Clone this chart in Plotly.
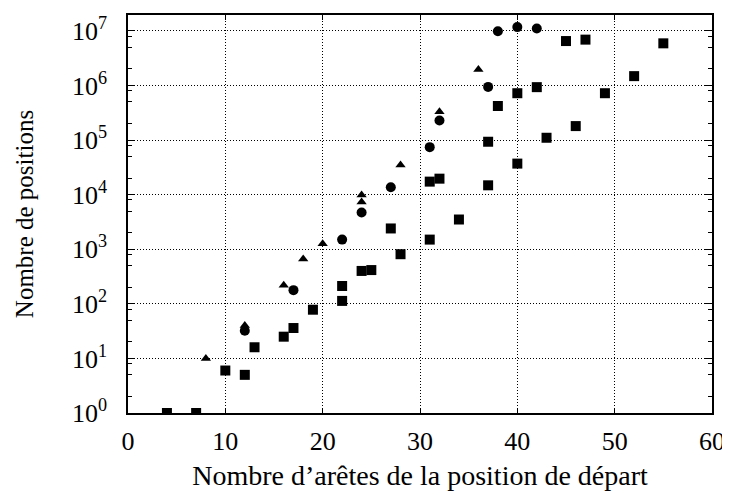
import plotly.graph_objects as go

# Nombre d'arêtes de la position de départ / nombre de positions
sq_x = [4, 7, 10, 12, 13, 16, 17, 19, 22, 22, 24, 25, 27, 28, 31, 31, 32, 34,
        37, 37, 38, 40, 40, 42, 43, 45, 46, 47, 49, 52, 55]
sq_y = [1, 1, 6, 5, 16, 25, 36, 78, 113, 212, 400, 415, 2400, 810, 1500, 17300,
        19600, 3500, 93000, 14800, 420000, 720000, 37000, 930000, 110000,
        6.5e6, 180000, 6.9e6, 720000, 1.48e6, 5.9e6]

ci_x = [12, 17, 22, 24, 27, 31, 32, 37, 38, 40, 42]
ci_y = [32, 178, 1500, 4700, 13600, 74000, 228000, 940000, 9.8e6, 1.17e7, 1.1e7]

tr_x = [8, 12, 16, 18, 20, 24, 24, 28, 32, 36]
tr_y = [10, 40, 218, 660, 1260, 7300, 9800, 35000, 330000, 1.95e6]

y_ticks = [10 ** k for k in range(8)]
y_labels = ["10<sup>%d</sup>" % k for k in range(8)]
minor_vals = [m * 10 ** k for k in range(8) for m in (2, 5, 8)]

FONT = "Liberation Serif"
GRID = dict(showgrid=True, gridcolor="black", griddash="1px,2px", gridwidth=1)
TICKFONT = dict(family=FONT, size=26, color="black")

fig = go.Figure()
fig.add_trace(go.Scatter(x=sq_x, y=sq_y, mode="markers",
                         marker=dict(symbol="square", size=10, color="black")))
fig.add_trace(go.Scatter(x=ci_x, y=ci_y, mode="markers",
                         marker=dict(symbol="circle", size=10, color="black")))
fig.add_trace(go.Scatter(x=tr_x, y=tr_y, mode="markers",
                         marker=dict(symbol="triangle-up", size=9, color="black")))

# the page adds an 8px body margin, so the figure is drawn 8px smaller
fig.update_layout(
    width=722, height=487,
    margin=dict(l=120, r=17, t=5, b=82),
    paper_bgcolor="white", plot_bgcolor="white",
    showlegend=False,
    font=dict(family=FONT, size=22, color="black"),
)
fig.update_xaxes(
    range=[0, 60], tickmode="array", tickvals=[0, 10, 20, 30, 40, 50, 60],
    tickfont=TICKFONT, ticklabelstandoff=4,
    showline=True, linecolor="black", linewidth=1.5, mirror="ticks",
    ticks="inside", ticklen=5, tickcolor="black", **GRID,
    zeroline=False,
    title=dict(text="Nombre d’arêtes de la position de départ", standoff=10,
               font=dict(size=28)),
)
fig.update_yaxes(
    type="log", range=[0, 7.29],
    tickmode="array", tickvals=y_ticks, ticktext=y_labels,
    tickfont=TICKFONT, ticklabelstandoff=14,
    showline=True, linecolor="black", linewidth=1.5, mirror="ticks",
    ticks="inside", ticklen=7, tickcolor="black", **GRID,
    zeroline=False,
    minor=dict(tickmode="array", tickvals=minor_vals, ticks="inside",
               ticklen=4, tickcolor="black", showgrid=False),
    title=dict(text="Nombre de positions", standoff=31, font=dict(size=25)),
)

fig.write_html("out.html")
